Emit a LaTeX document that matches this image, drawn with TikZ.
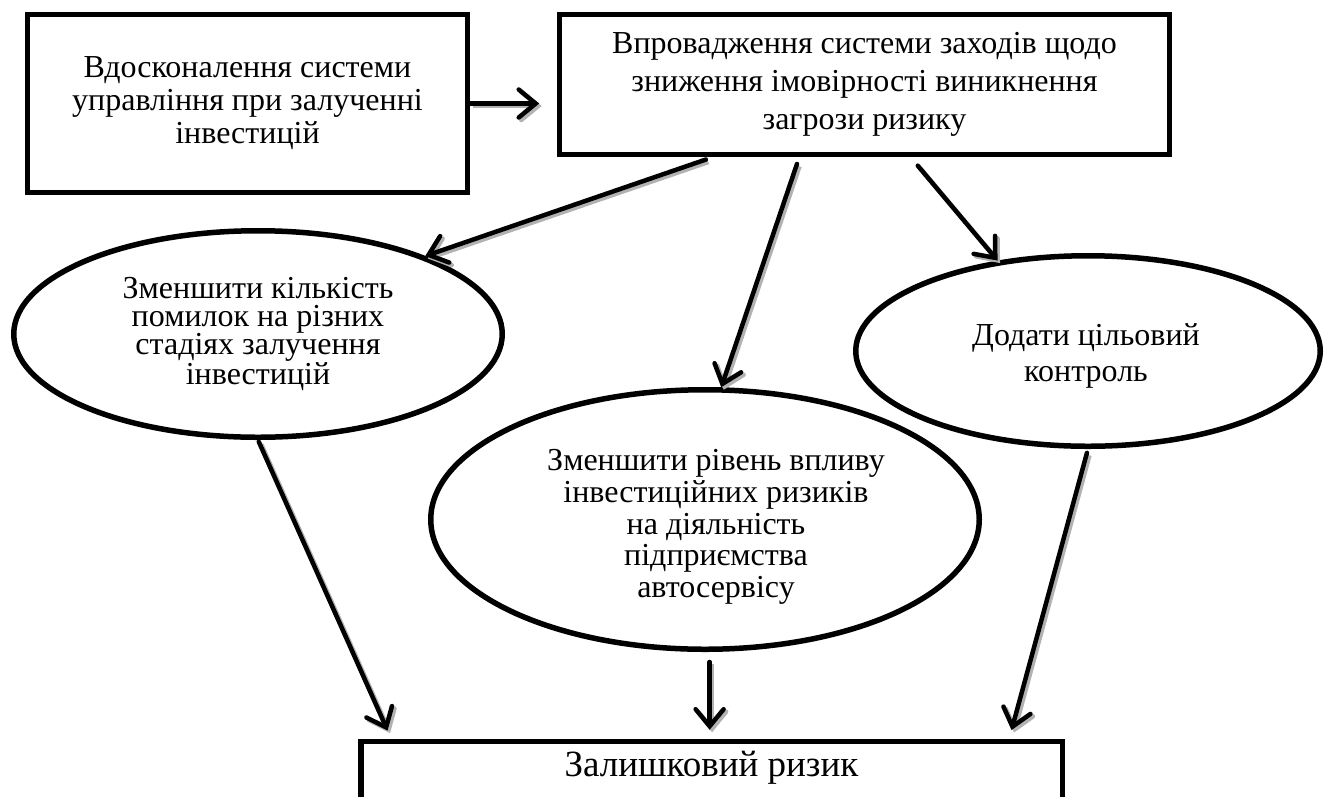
\documentclass[tikz,border=0pt]{standalone}
\usepackage{fontspec}
\setmainfont{Liberation Serif}
\usetikzlibrary{arrows.meta,shapes.geometric,calc}

\begin{document}
\begin{tikzpicture}[x=1pt,y=-1pt,
  frame/.style={draw, line width=5.5pt, inner sep=0pt, align=center},
  box/.style={frame, rectangle},
  oval/.style={frame, ellipse},
  txt/.style={align=center, inner sep=0pt},
  link/.style={line width=4.5pt, line cap=round,
    -{Straight Barb[length=17pt,width=28pt,line cap=round]},
    preaction={draw=black!30, line width=4.5pt, transform canvas={xshift=2.5pt,yshift=-2.5pt}}},
]
\useasboundingbox (0,0) rectangle (1331,796);

% upper boxes
\node[box, minimum width=440pt, minimum height=178pt, font=\fontsize{32}{33}\selectfont]
  (b1) at (247.5,103.5)
  {Вдосконалення системи\\управління при залученні\\інвестицій};
\node[box, minimum width=610pt, minimum height=140pt, font=\fontsize{32}{38}\selectfont]
  (b2) at (864.5,84.5)
  {Впровадження системи заходів щодо\\зниження імовірності виникнення\\загрози ризику};

% measures
\node[oval, minimum width=488.5pt, minimum height=206.5pt] (e1) at (258,334) {};
\node[txt, font=\fontsize{32}{28}\selectfont] (t1) at (258,334)
  {Зменшити кількість\\помилок на різних\\стадіях залучення\\інвестицій};
\node[oval, minimum width=548.5pt, minimum height=259.5pt] (e2) at (705,519.5) {};
\node[txt, font=\fontsize{32}{31.7}\selectfont] (t2) at (716,527)
  {Зменшити рівень впливу\\інвестиційних ризиків\\на діяльність\\підприємства\\автосервісу};
\node[oval, minimum width=464.5pt, minimum height=190.5pt] (e3) at (1088,351) {};
\node[txt, font=\fontsize{32}{36}\selectfont] (t3) at (1086,356) {Додати цільовий\\контроль};

% result
\node[draw, line width=5.5pt, anchor=north, minimum width=701.5pt, inner xsep=0pt,
  inner ysep=8pt, text height=27pt, text depth=60pt, font=\fontsize{37}{40}\selectfont]
  (res) at (711.5,738.75) {Залишковий ризик};

% connectors
\draw[link, shorten >=17.5pt] (b1.east) -- (b1.east -| b2.west);
\draw[link, shorten <=7pt] ($(b2.south west)!0.253!(b2.south east)$) -- (e1.25);
\draw[link, shorten <=7pt] ($(b2.south west)!0.394!(b2.south east)$) -- (e2.83);
\draw[link, shorten <=11pt] ($(b2.south west)!0.575!(b2.south east)$) -- (e3.135);
\draw[link, shorten <=2pt, shorten >=9pt] (e1.south) -- ($(res.north west)!0.047!(res.north east)$);
\draw[link, shorten <=10pt, shorten >=9pt] (e2.-88) -- (e2.-88 |- res.north);
\draw[link, shorten <=4pt, shorten >=9pt] (e3.south) -- ($(res.north west)!0.921!(res.north east)$);
\end{tikzpicture}
\end{document}
